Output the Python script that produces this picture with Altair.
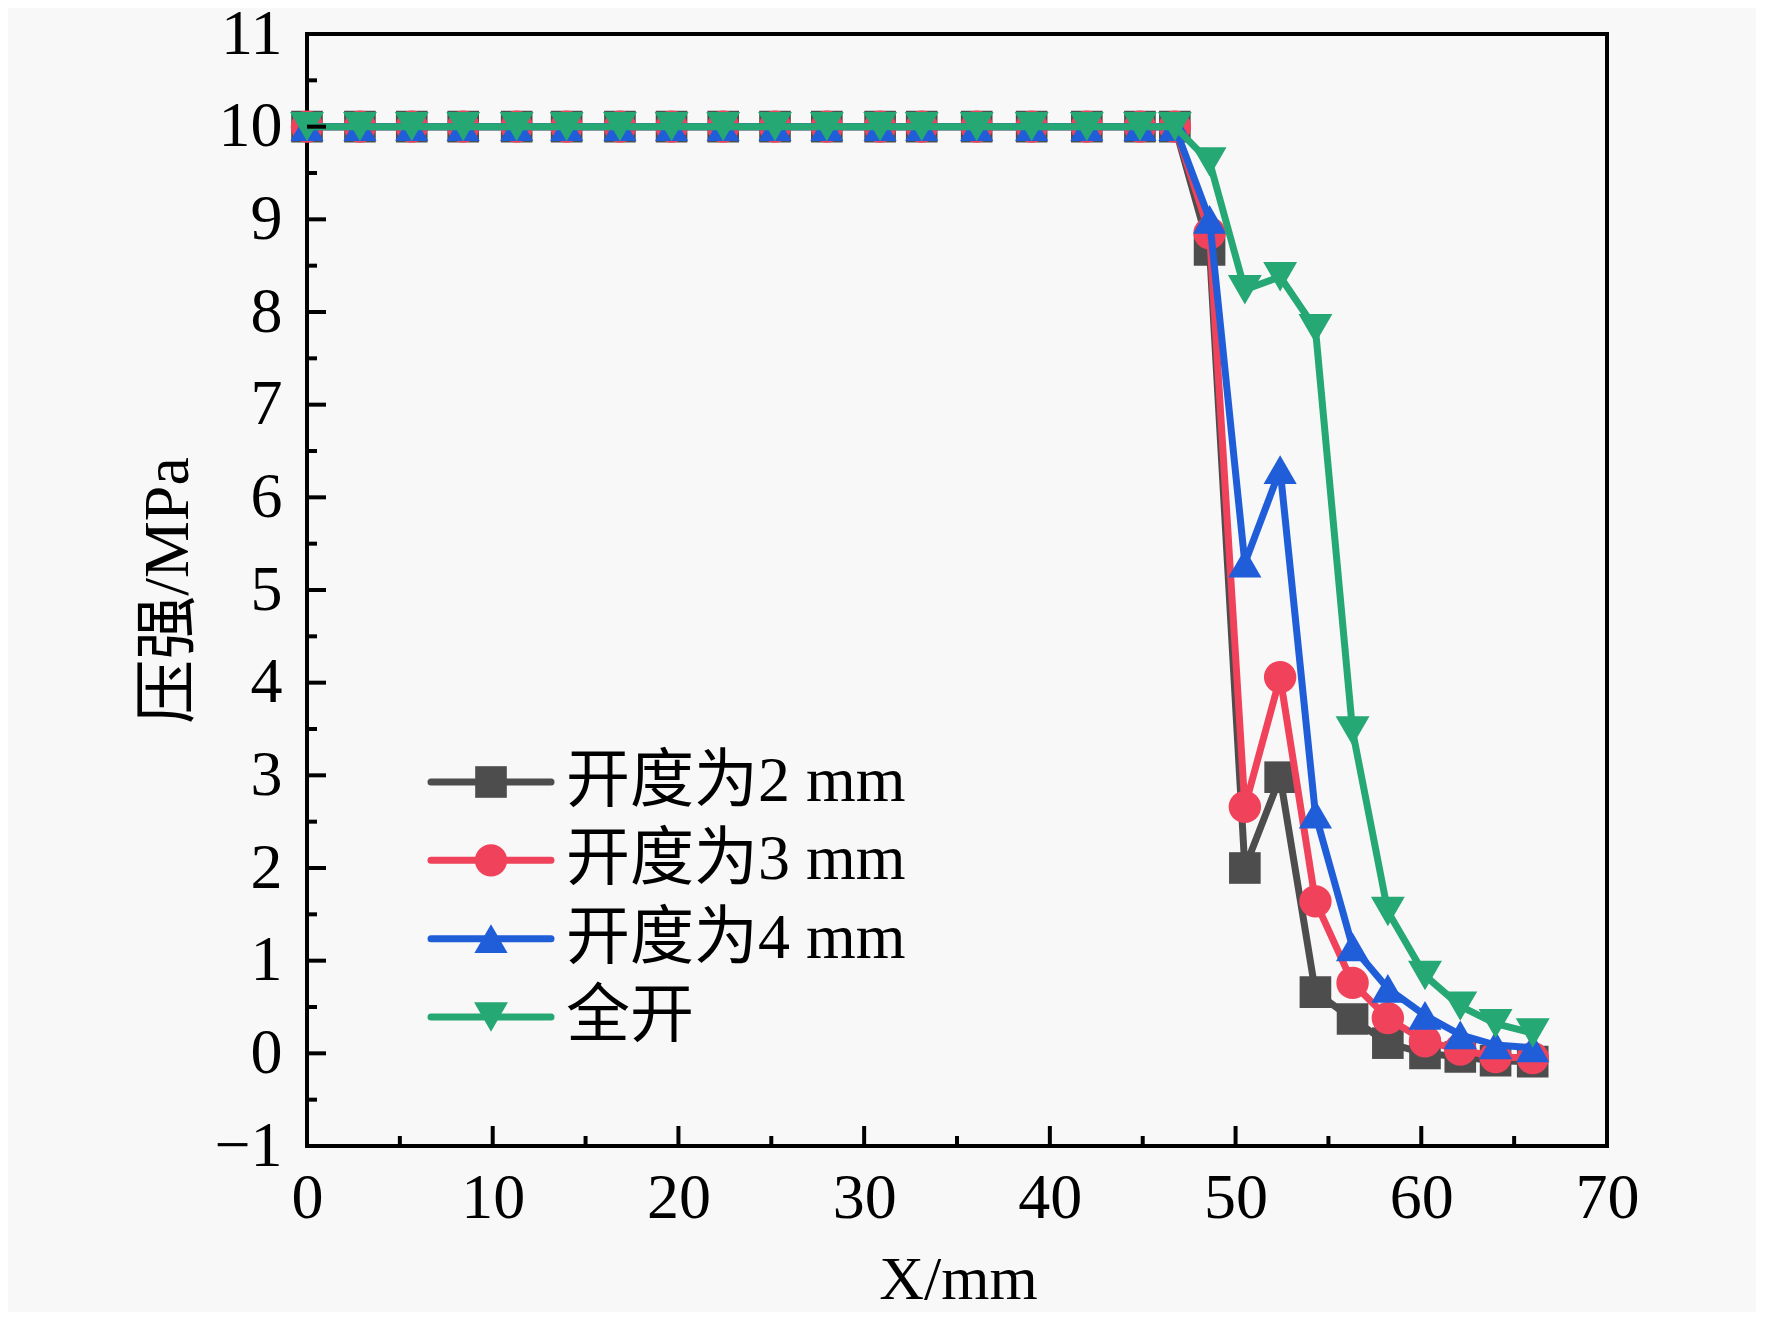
import altair as alt
import pandas as pd

# ---------------- data ----------------
x_mm = [0.0, 2.85, 5.64, 8.41, 11.29, 13.98, 16.85, 19.63, 22.41, 25.2, 27.99, 30.86,
        33.1, 36.06, 39.02, 41.99, 44.85, 46.73,
        48.6, 50.5, 52.4, 54.3, 56.3, 58.2, 60.2, 62.1, 64.0, 66.0]

p_2mm = [10.0, 10.0, 10.0, 10.0, 10.0, 10.0, 10.0, 10.0, 10.0, 10.0, 10.0, 10.0,
         10.0, 10.0, 10.0, 10.0, 10.0, 10.0,
         8.67, 2.0, 2.98, 0.66, 0.37, 0.11, 0.0, -0.04, -0.08, -0.09]
p_3mm = [10.0, 10.0, 10.0, 10.0, 10.0, 10.0, 10.0, 10.0, 10.0, 10.0, 10.0, 10.0,
         10.0, 10.0, 10.0, 10.0, 10.0, 10.0,
         8.85, 2.66, 4.06, 1.64, 0.76, 0.38, 0.13, 0.04, -0.04, -0.05]
p_4mm = [10.0, 10.0, 10.0, 10.0, 10.0, 10.0, 10.0, 10.0, 10.0, 10.0, 10.0, 10.0,
         10.0, 10.0, 10.0, 10.0, 10.0, 10.0,
         9.0, 5.29, 6.3, 2.58, 1.15, 0.70, 0.41, 0.20, 0.09, 0.06]
p_full = [10.0, 10.0, 10.0, 10.0, 10.0, 10.0, 10.0, 10.0, 10.0, 10.0, 10.0, 10.0,
          10.0, 10.0, 10.0, 10.0, 10.0, 10.0,
          9.62, 8.24, 8.38, 7.82, 3.48, 1.53, 0.84, 0.51, 0.32, 0.22]

names = ["开度为2 mm", "开度为3 mm", "开度为4 mm", "全开"]
series_values = [p_2mm, p_3mm, p_4mm, p_full]

x_major = [0, 10, 20, 30, 40, 50, 60, 70]
x_minor = [5, 15, 25, 35, 45, 55, 65]
y_major = [-1, 0, 1, 2, 3, 4, 5, 6, 7, 8, 9, 10, 11]
y_minor = [-0.5, 0.5, 1.5, 2.5, 3.5, 4.5, 5.5, 6.5, 7.5, 8.5, 9.5, 10.5]

# ---------------- styles ----------------
colors = ["#4d4d4d", "#f0425a", "#1f5ed8", "#26a874"]
shapes = ["square", "circle", "triangle-up", "triangle-down"]
sizes = [1000, 1150, 2300, 2200]

SERIF = "Liberation Serif"
MIXED = "Liberation Serif, 'Noto Sans CJK SC'"
W, H = 1300, 1112

rows = []
for n, vals in zip(names, series_values):
    for xv, yv in zip(x_mm, vals):
        rows.append({"name": n, "x": xv, "p": yv})
df = pd.DataFrame(rows)

xs = alt.Scale(domain=[0, 70], nice=False, zero=False)
ys = alt.Scale(domain=[-1, 11], nice=False, zero=False)
col = alt.Color("name:N", scale=alt.Scale(domain=names, range=colors), legend=None)
shp = alt.Shape("name:N", scale=alt.Scale(domain=names, range=shapes), legend=None)
sz = alt.Size("name:N", scale=alt.Scale(domain=names, range=sizes), legend=None)

x_axis = alt.Axis(
    values=x_major, title="X/mm", ticks=False, domain=False, grid=False,
    labelFont=SERIF, labelFontSize=64, labelColor="black", labelPadding=20,
    labelFlush=False, labelOverlap=False, labelBound=False, format="d",
    titleFont=SERIF, titleFontSize=62, titleFontWeight="normal", titleColor="black",
    titleX=651, titleY=133, titleBaseline="middle", titleAlign="center")
y_axis = alt.Axis(
    values=y_major, title="压强/MPa", ticks=False, domain=False, grid=False,
    labelFont=SERIF, labelFontSize=64, labelColor="black", labelPadding=25,
    labelFlush=False, labelOverlap=False, labelBound=False, format="d",
    titleFont=MIXED, titleFontSize=64, titleFontWeight="normal", titleColor="black",
    titleX=-139, titleY=556, titleAngle=270, titleBaseline="middle", titleAlign="center")

X = alt.X("x:Q", scale=xs, axis=x_axis)
Y = alt.Y("p:Q", scale=ys, axis=y_axis)

base = alt.Chart(df)
layers = []
for n in names:
    b = base.transform_filter(alt.datum.name == n)
    layers.append(b.mark_line(strokeWidth=7, strokeJoin="round").encode(x=X, y=Y, color=col))
    layers.append(b.mark_point(filled=True, opacity=1, strokeWidth=1).encode(
        x=X, y=Y, color=col, shape=shp, size=sz))

# inward tick marks (same fields / axes as the data so the axes merge)
layers.append(alt.Chart(pd.DataFrame({"x": x_major})).mark_rule(color="black", strokeWidth=4)
              .encode(x=X, y=alt.value(H), y2=alt.value(H - 20)))
layers.append(alt.Chart(pd.DataFrame({"x": x_minor})).mark_rule(color="black", strokeWidth=4)
              .encode(x=X, y=alt.value(H), y2=alt.value(H - 10)))
layers.append(alt.Chart(pd.DataFrame({"p": y_major})).mark_rule(color="black", strokeWidth=4)
              .encode(y=Y, x=alt.value(0), x2=alt.value(19)))
layers.append(alt.Chart(pd.DataFrame({"p": y_minor})).mark_rule(color="black", strokeWidth=4)
              .encode(y=Y, x=alt.value(0), x2=alt.value(10)))

main = alt.layer(*layers)

# legend built from the series names
leg = alt.Chart(pd.DataFrame({"name": names}))
ly = alt.Y("name:N", scale=alt.Scale(type="point", domain=names, range=[748, 983], padding=0),
           axis=None)
legend = alt.layer(
    leg.mark_rule(strokeWidth=7, strokeCap="round").encode(
        x=alt.value(124), x2=alt.value(244), y=ly, color=col),
    leg.mark_point(filled=True, opacity=1, strokeWidth=1).encode(
        x=alt.value(184), y=ly, color=col, shape=shp, size=sz),
    leg.mark_text(align="left", baseline="middle", font=MIXED, fontSize=64, color="black").encode(
        x=alt.value(259), y=ly, text="name:N"),
)

chart = alt.layer(main, legend).resolve_scale(y="independent").properties(
    width=W, height=H,
    autosize=alt.AutoSizeParams(type="none"),
    padding={"left": 299, "top": 26, "right": 149, "bottom": 166},
    background="#f8f8f8",
).configure_view(stroke="black", strokeWidth=4)

chart.save("out.html", embed_options={"renderer": "svg", "actions": False})
